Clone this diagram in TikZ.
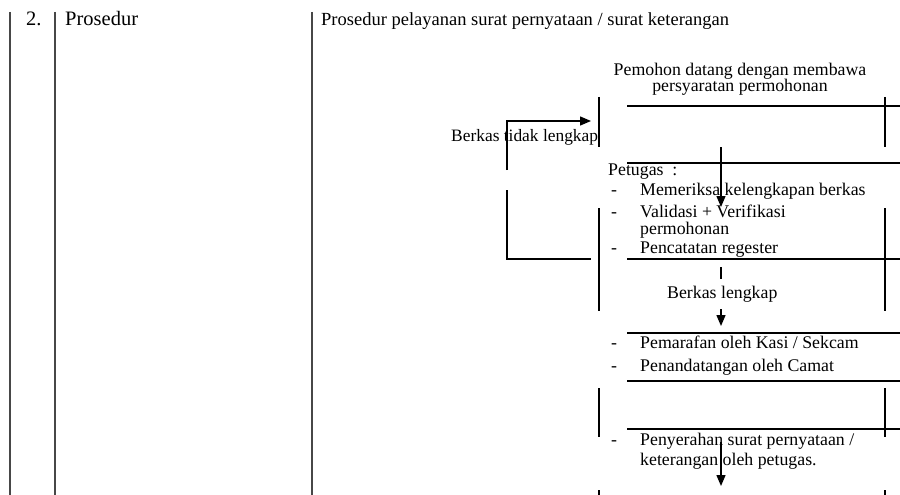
\documentclass[tikz,border=0pt]{standalone}
\usepackage{fontspec}
\setmainfont{Liberation Serif}
\usetikzlibrary{arrows.meta}
\begin{document}
\begin{tikzpicture}[x=1pt,y=-1pt,
  tbl/.style={draw=black!72, line width=1.7pt},
  ln/.style={draw=black, line width=1.1pt},
  arr/.style={draw=black, line width=1.4pt, -{Triangle[length=11pt,width=9pt]}},
  txt/.style={inner sep=0pt, anchor=base west, font=\fontsize{17.8}{20}\selectfont},
  stxt/.style={inner sep=0pt, anchor=base west, font=\fontsize{17.4}{20}\selectfont},
  ctxt/.style={inner sep=0pt, anchor=base, font=\fontsize{17.8}{20}\selectfont},
  ttl/.style={inner sep=0pt, anchor=base west, font=\fontsize{18.5}{22}\selectfont},
  hdr/.style={inner sep=0pt, anchor=base west, font=\fontsize{20.5}{24}\selectfont}]
\useasboundingbox (0,0) rectangle (900,495);

% table rules
\draw[tbl] (10,12) -- (10,495);
\draw[tbl] (55,12) -- (55,495);
\draw[tbl] (312,12) -- (312,495);

% header texts
\node[hdr] (num) at (26,26) {2.};
\node[hdr] (col) at (65,26) {Prosedur};
\node[ttl] (title) at (321,26) {Prosedur pelayanan surat pernyataan / surat keterangan};

% flow texts
\node[ctxt] (p1) at (740,75) {Pemohon datang dengan membawa};
\node[ctxt] (p2) at (740,92) {persyaratan permohonan};
\node[stxt] (tl) at (451,141) {Berkas tidak lengkap};
\node[txt] (pet) at (608,175) {Petugas\ \ :};
\foreach \yy/\nm in {195/d1,217/d2,253/d3,348/d4,371/d5,445/d6}
  \node[txt] (\nm) at (611,\yy) {-};
\node[txt] (t1) at (640,195) {Memeriksa kelengkapan berkas};
\node[txt] (t2) at (640,217) {Validasi + Verifikasi};
\node[txt] (t2b) at (640,234) {permohonan};
\node[txt] (t3) at (640,253) {Pencatatan regester};
\node[txt] (bl) at (667,298) {Berkas lengkap};
\node[txt] (t4) at (640,348) {Pemarafan oleh Kasi / Sekcam};
\node[txt] (t5) at (640,371) {Penandatangan oleh Camat};
\node[txt] (t6) at (640,445) {Penyerahan surat pernyataan /};
\node[txt] (t6b) at (640,465) {keterangan oleh petugas.};

% horizontal flow rules
\foreach \yy in {106,163,259,333,381,429}
  \draw[ln] (627,\yy) -- (900,\yy);
% vertical flow rules
\foreach \a/\b in {97/147,208/311,388/437,490/495}{
  \draw[ln] (599,\a) -- (599,\b);
  \draw[ln] (885,\a) -- (885,\b);}

% loop "Berkas tidak lengkap"
\coordinate (la) at (507,170);
\coordinate (lb) at (507,121);
\coordinate (lc) at (591,121);
\coordinate (ld) at (507,190);
\coordinate (le) at (507,259);
\coordinate (lf) at (591,259);
\draw[arr] (la) -- (lb) -- (lc);
\draw[ln] (ld) -- (le) -- (lf);

% downward arrows
\coordinate (a1) at (721,147);
\coordinate (a1e) at (721,207);
\draw[arr] (a1) -- (a1e);
\coordinate (k1) at (721,267);
\coordinate (k2) at (721,279);
\draw[ln] (k1) -- (k2);
\coordinate (a2) at (721,309);
\coordinate (a2e) at (721,326);
\draw[arr] (a2) -- (a2e);
\coordinate (a3) at (721,442);
\coordinate (a3e) at (721,486);
\draw[arr] (a3) -- (a3e);
\end{tikzpicture}
\end{document}
